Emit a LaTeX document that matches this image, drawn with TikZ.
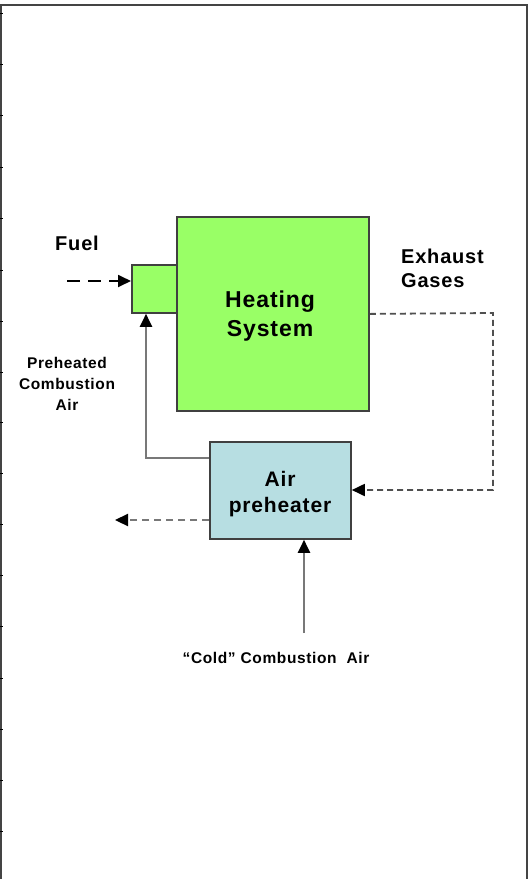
\documentclass[tikz,border=0pt]{standalone}
\usepackage{fontspec}
\setmainfont{Liberation Sans}[LetterSpace=4]
\usetikzlibrary{arrows.meta}
\definecolor{boxgreen}{RGB}{153,255,102}
\definecolor{boxblue}{RGB}{183,222,226}
\definecolor{edgegray}{RGB}{64,64,64}
\definecolor{linegray}{RGB}{120,120,120}
\definecolor{dashgray}{RGB}{80,80,80}
\definecolor{framegray}{RGB}{68,68,68}
\begin{document}
\begin{tikzpicture}[x=1pt,y=-1pt,
  blockbox/.style={draw=edgegray,line width=1.8pt,inner sep=0pt,anchor=north west},
  lbl/.style={inner sep=0pt,font=\bfseries,text=black},
  tip/.style={-{Triangle[length=13pt,width=12pt,color=black]}},
  solidconn/.style={draw=linegray,line width=2pt,tip},
  exhaustconn/.style={draw=dashgray,line width=1.8pt,dash pattern=on 6pt off 4pt,tip},
  fuelconn/.style={draw=black,line width=1.8pt,dash pattern=on 13pt off 8pt,tip},
  outconn/.style={draw=linegray,line width=2.2pt,dash pattern=on 7pt off 5pt,tip}]
\useasboundingbox (0,0) rectangle (529,879);
% frame
\draw[framegray,line width=2pt] (1,879) -- (1,5) -- (527,5) -- (527,879);
\foreach \ty in {13,64,115,167,218,270,321,372,422,473,524,575,626,678,729,780,831}
  \draw[black,line width=1pt] (0,\ty) -- (3,\ty);
% blocks
\node[blockbox,fill=boxgreen,minimum width=192pt,minimum height=194pt] (heat) at (176,216) {};
\node[blockbox,fill=boxgreen,minimum width=45pt,minimum height=48pt] (burner) at (131,264) {};
\node[blockbox,fill=boxblue,minimum width=141pt,minimum height=97pt] (aph) at (209,441) {};
% texts
\node[lbl,align=center,font=\bfseries\fontsize{23}{29}\selectfont] (heattxt) at (270,316) {Heating\\System};
\node[lbl,align=center,font=\bfseries\fontsize{21}{26}\selectfont] (aphtxt) at (280,494) {Air\\preheater};
\node[lbl,font=\bfseries\fontsize{20}{24}\selectfont] (fuel) at (77,243) {Fuel};
\node[lbl,align=left,anchor=west,font=\bfseries\fontsize{20}{24}\selectfont] (exh) at (401,268) {Exhaust\\Gases};
\node[lbl,align=center,font=\bfseries\fontsize{15.5}{21}\selectfont] (preh) at (67,384) {Preheated\\Combustion\\Air};
\node[lbl,font=\bfseries\fontsize{15.5}{18}\selectfont] (cold) at (276,658) {``Cold'' Combustion\ \ Air};
% connectors
\coordinate (fuelstart) at (67,281);
\coordinate (coldstart) at (304,633);
\coordinate (outend) at (115,520);
\draw[fuelconn] (fuelstart) -- (fuelstart -| burner.west);
\draw[exhaustconn] (heat.east) -- (493,313) -- (493,490) -- (aph.east |- 0,490);
\draw[solidconn] (aph.west |- 0,458) -- (146,458) -- (146,458 |- burner.south);
\draw[solidconn] (coldstart) -- (coldstart |- aph.south);
\draw[outconn] (aph.west |- outend) -- (outend);
\end{tikzpicture}
\end{document}
